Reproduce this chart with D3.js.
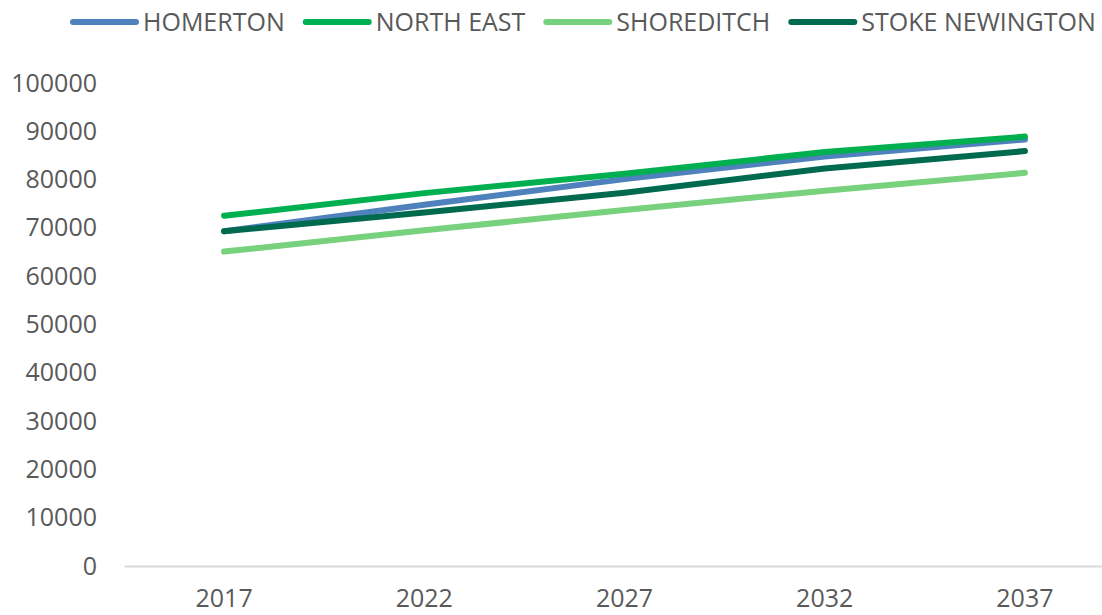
<!DOCTYPE html>
<html>
<head>
<meta charset="utf-8">
<script src="https://cdn.jsdelivr.net/npm/d3@7"></script>
<style>
  html, body { margin: 0; padding: 0; background: #fff; }
  svg text { font-family: "Open Sans", "Liberation Sans", sans-serif; fill: #595959; }
</style>
</head>
<body>
<div id="chart"></div>
<script>
// data
const years = ['2017', '2022', '2027', '2032', '2037'];
const seriesNames = ['HOMERTON', 'NORTH EAST', 'SHOREDITCH', 'STOKE NEWINGTON'];
const homerton = [69300, 74800, 80100, 84800, 88300];
const northEast = [72500, 77200, 81200, 85700, 88900];
const shoreditch = [65100, 69500, 73700, 77700, 81400];
const stokeNewington = [69300, 73200, 77300, 82300, 85900];
const yTicks = [0, 10000, 20000, 30000, 40000, 50000, 60000, 70000, 80000, 90000, 100000];
const colors = ['#4f81bd', '#00b050', '#77d17d', '#006a4e'];

const allValues = [homerton, northEast, shoreditch, stokeNewington];

const config_size = {
  svg_width: 1102,
  svg_height: 615,
  plot_margin: { left: 124, right: -23, top: 83, bottom: 49 },
};

const svg = d3.select('#chart').append('svg')
  .attr('width', config_size.svg_width)
  .attr('height', config_size.svg_height);

const plot_width = config_size.svg_width - config_size.plot_margin.left - config_size.plot_margin.right;
const plot_height = config_size.svg_height - config_size.plot_margin.top - config_size.plot_margin.bottom;

const plot_g = svg.append('g')
  .attr('transform', `translate(${config_size.plot_margin.left},${config_size.plot_margin.top})`);

const x = d3.scaleBand().domain(years).range([0, plot_width]);
const y = d3.scaleLinear().domain([0, 100000]).range([plot_height, 0]);

// y axis labels, no line
const yAxis = plot_g.append('g')
  .call(d3.axisLeft(y).tickValues(yTicks).tickSize(0).tickPadding(27).tickFormat(d3.format('d')));
yAxis.select('.domain').remove();
yAxis.selectAll('text').style('font-size', '25px').attr('fill', '#595959');

// x axis
const xAxis = plot_g.append('g')
  .attr('transform', `translate(0,${plot_height})`)
  .call(d3.axisBottom(x).tickSize(0).tickPadding(23));
xAxis.select('.domain').attr('stroke', '#d9d9d9').attr('stroke-width', 2);
xAxis.selectAll('text').style('font-size', '25px').attr('fill', '#595959');

// lines
const line = d3.line()
  .x((d, i) => x(years[i]) + x.bandwidth() / 2)
  .y(d => y(d));

allValues.forEach((vals, i) => {
  plot_g.append('path')
    .datum(vals)
    .attr('fill', 'none')
    .attr('stroke', colors[i])
    .attr('stroke-width', 6)
    .attr('stroke-linecap', 'round')
    .attr('stroke-linejoin', 'round')
    .attr('d', line);
});

// legend
const legend = svg.append('g').attr('transform', 'translate(73,22)');
let lx = 0;
seriesNames.forEach((name, i) => {
  const g = legend.append('g').attr('transform', `translate(${lx},0)`);
  g.append('line')
    .attr('x1', 0).attr('x2', 63).attr('y1', 0).attr('y2', 0)
    .attr('stroke', colors[i]).attr('stroke-width', 6).attr('stroke-linecap', 'round');
  const t = g.append('text')
    .attr('x', 70).attr('y', 9)
    .style('font-size', '25px')
    .text(name);
  lx += 70 + t.node().getComputedTextLength() + 21;
});
</script>
</body>
</html>
